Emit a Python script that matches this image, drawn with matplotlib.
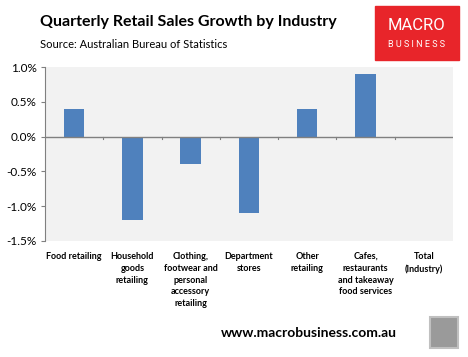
import matplotlib
matplotlib.use("Agg")
import matplotlib.pyplot as plt
from matplotlib.patches import Rectangle
from matplotlib.ticker import FuncFormatter

plt.rcParams['font.family'] = ['Lato', 'DejaVu Sans']

categories = ["Food retailing", "Household\ngoods\nretailing",
              "Clothing,\nfootwear and\npersonal\naccessory\nretailing",
              "Department\nstores", "Other\nretailing",
              "Cafes,\nrestaurants\nand takeaway\nfood services",
              "Total\n(Industry)"]
growth = [0.4, -1.2, -0.4, -1.1, 0.4, 0.9, 0.0]
yticks = [1.0, 0.5, 0.0, -0.5, -1.0, -1.5]

fig = plt.figure(figsize=(4.68, 3.57), dpi=100)
ax = fig.add_axes([0.096, 0.325, 0.872, 0.487])
ax.set_facecolor("#f2f2f2")

x = range(len(categories))
ax.bar(x, growth, width=0.35, color="#4f81bd", zorder=3)
ax.set_xlim(-0.5, len(categories) - 0.5)
ax.set_ylim(-1.5, 1.0)
ax.set_yticks(yticks)
ax.yaxis.set_major_formatter(FuncFormatter(lambda v, p: f"{v:.1f}%"))
ax.tick_params(axis="y", labelsize=8.5, length=3, color="#808080", pad=3)

# category labels sit below the plot area
ax.set_xticks(list(x))
ax.set_xticklabels(categories, fontsize=6.5, fontweight="bold", linespacing=1.4, va="top")
ax.tick_params(axis="x", length=0, pad=8)

for s in ["top", "right", "bottom"]:
    ax.spines[s].set_visible(False)
ax.spines["left"].set_color("#808080")

# zero line with category dividers
ax.axhline(0, color="#808080", lw=1, zorder=4)
for b in range(1, len(categories)):
    ax.plot([b - 0.5, b - 0.5], [0, -0.04], color="#808080", lw=0.8, zorder=4, clip_on=False)

fig.text(0.085, 0.938, "Quarterly Retail Sales Growth by Industry", fontsize=11.5,
         fontweight="bold", va="center")
fig.text(0.085, 0.875, "Source: Australian Bureau of Statistics", fontsize=8, va="center")

# logo block
fig.patches.append(Rectangle((0.801, 0.832), 0.18, 0.151, transform=fig.transFigure,
                             color="#e8252a", zorder=1))
fig.text(0.891, 0.928, "MACRO", color="white", fontsize=12, ha="center", va="center",
         family="Roboto")
fig.text(0.891, 0.876, "B U S I N E S S", color="white", fontsize=6.5, ha="center", va="center",
         family="Roboto")

fig.text(0.66, 0.067, "www.macrobusiness.com.au", fontsize=10, fontweight="bold",
         ha="center", va="center")
fig.patches.append(Rectangle((0.919, 0.025), 0.06, 0.086, transform=fig.transFigure,
                             facecolor="#9a9a9a", edgecolor="#c0c0c0", lw=1.5, zorder=1))

fig.savefig("out.png", dpi=100)
